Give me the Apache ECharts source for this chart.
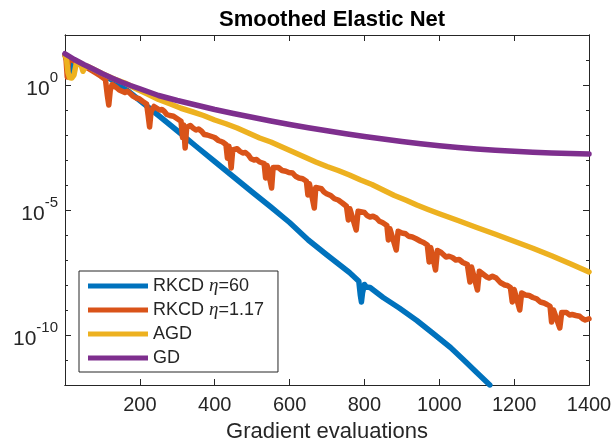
<!DOCTYPE html>
<html>
<head>
<meta charset="utf-8" />
<title>Smoothed Elastic Net</title>
<script src="https://cdn.jsdelivr.net/npm/echarts@6.0.0/dist/echarts.min.js"></script>
<style>
  html, body { margin: 0; padding: 0; background: #fff; }
  #chart { width: 611px; height: 446px; }
</style>
</head>
<body>
<div id="chart"></div>
<script type="text/javascript">
// every y value is the exponent k of 10^k
var seriesNames = ['RKCD η=60', 'RKCD η=1.17', 'AGD', 'GD'];
var seriesColors = ['#0072BD', '#D95319', '#EDB120', '#7E2F8E'];

// RKCD eta=60
var rk60X = [0, 4, 8, 12, 16, 22, 30, 50, 75, 100, 125, 145, 165, 200, 250, 300, 350, 400, 450, 500,
  550, 600, 650, 700, 760, 785, 789, 792, 795, 800, 805, 815, 850, 893, 940, 982, 1030, 1071, 1100, 1135];
var rk60Y = [1.2, 1.05, 0.45, 0.4, 0.55, 0.88, 0.95, 0.78, 0.6, 0.42, 0.2, 0.02, -0.2, -0.62, -1.22, -1.83, -2.45, -3.06, -3.67, -4.28,
  -4.88, -5.5, -6.2, -6.8, -7.5, -7.85, -8.4, -8.68, -8.3, -7.98, -8.08, -8.1, -8.5, -8.92, -9.42, -9.92, -10.5, -11.08, -11.5, -12.0];

// RKCD eta=1.17
var rk117X = [0, 3, 6, 9, 14, 25, 40, 60, 80, 95,
  108, 113, 117, 121, 126, 139, 145, 150, 160, 167,
  175, 182, 190, 198, 208, 218, 222, 226, 230, 238,
  253, 259, 265, 272, 280, 290, 300, 310, 314, 317,
  321, 325, 335, 342, 350, 357, 365, 372, 380, 390,
  400, 410, 421, 430, 434, 438, 444, 448, 460, 467,
  475, 482, 490, 497, 505, 512, 520, 532, 536, 540,
  552, 556, 570, 580, 590, 598, 608, 616, 625, 635,
  645, 649, 653, 666, 670, 685, 692, 699, 710, 720,
  730, 741, 752, 757, 761, 778, 783, 800, 807, 815,
  823, 832, 840, 848, 860, 864, 868, 885, 890, 900,
  910, 918, 928, 938, 950, 958, 968, 973, 977, 990,
  995, 1005, 1018, 1026, 1035, 1044, 1053, 1063, 1075, 1082,
  1086, 1102, 1107, 1120, 1127, 1133, 1142, 1152, 1163, 1175,
  1182, 1190, 1195, 1200, 1215, 1220, 1230, 1240, 1250, 1260,
  1270, 1280, 1288, 1296, 1300, 1305, 1322, 1327, 1340, 1348,
  1355, 1365, 1375, 1383, 1390, 1400];
var rk117Y = [1.2, 1.0, 0.32, 0.9, 1.05, 0.95, 0.82, 0.68, 0.5, 0.36,
  0.22, -0.4, -0.8, -0.2, 0.02, -0.12, -0.2, -0.15, -0.3, -0.25,
  -0.35, -0.45, -0.52, -0.55, -0.66, -0.76, -1.2, -1.68, -1.05, -0.86,
  -1.0, -0.98, -1.05, -1.18, -1.22, -1.25, -1.35, -1.45, -2.1, -1.6,
  -2.52, -1.7, -1.62, -1.72, -1.8, -1.76, -1.85, -1.98, -2.0, -2.05,
  -2.1, -2.22, -2.28, -2.38, -2.93, -2.45, -3.32, -2.6, -2.55, -2.65,
  -2.72, -2.7, -2.8, -2.95, -3.0, -2.98, -3.08, -3.14, -3.72, -3.22,
  -4.12, -3.3, -3.3, -3.42, -3.45, -3.5, -3.52, -3.65, -3.72, -3.75,
  -3.85, -4.4, -3.95, -4.92, -4.1, -4.15, -4.28, -4.35, -4.42, -4.55,
  -4.6, -4.72, -4.85, -5.4, -4.95, -5.8, -5.05, -5.1, -5.22, -5.28,
  -5.25, -5.32, -5.45, -5.5, -5.62, -6.2, -5.75, -6.6, -5.85, -5.92,
  -5.95, -6.05, -6.08, -6.15, -6.25, -6.3, -6.4, -7.08, -6.5, -7.4,
  -6.62, -6.7, -6.88, -6.85, -6.9, -7.0, -6.98, -7.1, -7.18, -7.88,
  -7.28, -8.2, -7.45, -7.6, -7.68, -7.72, -7.65, -7.72, -7.9, -8.0,
  -8.02, -8.1, -8.68, -8.18, -9.0, -8.32, -8.4, -8.42, -8.5, -8.55,
  -8.68, -8.72, -8.78, -8.85, -9.48, -9.0, -9.72, -9.1, -9.1, -9.2,
  -9.18, -9.22, -9.25, -9.35, -9.4, -9.35];

// AGD
var agdX = [0, 4, 8, 12, 18, 24, 30, 38, 44, 48, 53, 60, 80, 100, 130, 160, 190, 220, 250, 280,
  310, 340, 370, 400, 430, 460, 490, 520, 550, 580, 610, 640, 670, 700, 730, 760, 790, 820, 850, 880,
  910, 940, 970, 1000, 1050, 1100, 1150, 1200, 1250, 1300, 1350, 1400];
var agdY = [1.2, 1.05, 0.5, 0.3, 0.28, 0.4, 0.85, 0.9, 0.75, 0.55, 0.7, 0.75, 0.6, 0.45, 0.25, 0.08, -0.15, -0.36, -0.58, -0.75,
  -0.93, -1.07, -1.22, -1.4, -1.55, -1.72, -1.92, -2.12, -2.28, -2.48, -2.68, -2.88, -3.08, -3.26, -3.42, -3.6, -3.8, -3.98, -4.2, -4.42,
  -4.6, -4.8, -4.98, -5.15, -5.42, -5.7, -5.97, -6.25, -6.53, -6.83, -7.15, -7.48];

// GD
var gdX = [0, 25, 50, 75, 100, 125, 150, 175, 200, 250, 300, 350, 400, 450, 500, 550, 600, 650, 700, 750,
  800, 850, 900, 950, 1000, 1050, 1100, 1150, 1200, 1250, 1300, 1350, 1400];
var gdY = [1.25, 1.02, 0.82, 0.64, 0.45, 0.28, 0.12, -0.02, -0.15, -0.42, -0.62, -0.8, -0.98, -1.14, -1.29, -1.44, -1.58, -1.71, -1.83, -1.95,
  -2.06, -2.16, -2.26, -2.35, -2.43, -2.5, -2.56, -2.61, -2.65, -2.69, -2.72, -2.74, -2.76];

var xMin = 0, xMax = 1400, xStep = 200;
var yMin = -12, yMax = 2;
var yMinorTicks = [-11, -10, -9, -8, -7, -6, -5, -4, -3, -2, -1, 0, 1];
var yMajorTicks = [-10, -5, 0];

var axisColor = '#262626';
var font = 'Liberation Sans';
var gridBox = { left: 65, right: 22, top: 35, bottom: 61, containLabel: false, outerBoundsMode: 'none' };

function pairs(xs, ys) {
  return xs.map(function (x, i) { return [x, ys[i]]; });
}

function yAxisDef(grid, pos, ticks, tickLen, labels) {
  return {
    type: 'value', gridIndex: grid, position: pos, min: yMin, max: yMax, interval: 1,
    axisLine: { show: true, onZero: false, lineStyle: { color: axisColor, width: 1 } },
    axisTick: { show: true, inside: true, length: tickLen, customValues: ticks, lineStyle: { color: axisColor } },
    splitLine: { show: false },
    axisLabel: {
      show: labels, margin: 7, customValues: yMajorTicks,
      formatter: function (v) { return '{b|10}{s|' + Math.round(v) + '}'; },
      rich: {
        b: { fontSize: 21, fontFamily: font, color: axisColor, lineHeight: 30, verticalAlign: 'bottom' },
        s: { fontSize: 15, fontFamily: font, color: axisColor, lineHeight: 16, verticalAlign: 'top' }
      }
    }
  };
}

function xAxisDef(grid, pos, labels) {
  var ax = {
    type: 'value', gridIndex: grid, position: pos, min: xMin, max: xMax, interval: xStep,
    axisLine: { show: true, onZero: false, lineStyle: { color: axisColor, width: 1 } },
    axisTick: { show: true, inside: true, length: 6, lineStyle: { color: axisColor } },
    splitLine: { show: false },
    axisLabel: {
      show: labels, margin: 10, fontSize: 20, fontFamily: font, color: axisColor,
      formatter: function (v) { return v === 0 ? '' : String(v); }
    }
  };
  if (labels) {
    ax.name = 'Gradient evaluations';
    ax.nameLocation = 'middle';
    ax.nameGap = 36;
    ax.nameTextStyle = { fontSize: 22, fontFamily: font, color: axisColor };
  }
  return ax;
}

function lineSeries(i, xs, ys) {
  return {
    name: seriesNames[i], type: 'line', data: pairs(xs, ys),
    xAxisIndex: 0, yAxisIndex: 0,
    showSymbol: false, symbol: 'none', clip: true,
    lineStyle: { width: 5.5, color: seriesColors[i], join: 'round', cap: 'round' },
    itemStyle: { color: seriesColors[i] },
    emphasis: { disabled: true }
  };
}

var chart = echarts.init(document.getElementById('chart'), null, { renderer: 'canvas' });
chart.setOption({
  animation: false,
  backgroundColor: '#fff',
  color: seriesColors,
  title: {
    text: 'Smoothed Elastic Net', left: 214, top: 4,
    textStyle: { fontSize: 22, fontWeight: 'bold', fontFamily: font, color: '#000' }
  },
  // grid 1 sits on grid 0 and only carries the longer major y ticks
  grid: [gridBox, gridBox],
  legend: {
    orient: 'vertical', left: 79, top: 271,
    padding: [5, 14, 4, 9], itemGap: 4, itemWidth: 60, itemHeight: 5, icon: 'rect',
    borderColor: axisColor, borderWidth: 1, backgroundColor: '#fff',
    selectedMode: false,
    data: seriesNames,
    formatter: function (name) { return name.replace('η', '{e|η}'); },
    textStyle: {
      fontSize: 18, fontFamily: font, color: axisColor, lineHeight: 20,
      rich: { e: { fontSize: 19, fontFamily: 'Liberation Serif', fontStyle: 'italic', color: axisColor, lineHeight: 20 } }
    }
  },
  xAxis: [xAxisDef(0, 'bottom', true), xAxisDef(0, 'top', false), xAxisDef(1, 'bottom', false)],
  yAxis: [
    yAxisDef(0, 'left', yMinorTicks, 3, true),
    yAxisDef(0, 'right', yMinorTicks, 3, false),
    yAxisDef(1, 'left', yMajorTicks, 6, false),
    yAxisDef(1, 'right', yMajorTicks, 6, false)
  ],
  series: [
    lineSeries(0, rk60X, rk60Y),
    lineSeries(1, rk117X, rk117Y),
    lineSeries(2, agdX, agdY),
    lineSeries(3, gdX, gdY)
  ]
});
</script>
</body>
</html>
